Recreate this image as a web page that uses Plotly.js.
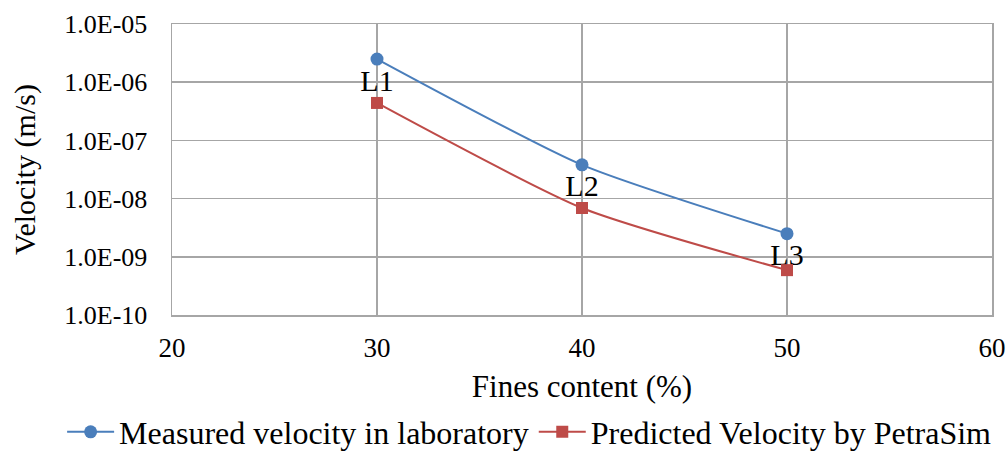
<!DOCTYPE html>
<html>
<head>
<meta charset="utf-8">
<script src="https://cdn.plot.ly/plotly-3.0.1.min.js"></script>
<style>html,body{margin:0;padding:0;background:#fff;}#chart{width:1007px;height:451px;}</style>
</head>
<body>
<div id="chart"></div>
<script>
const finesContent = [30, 40, 50];
const measuredVelocity = [2.5e-6, 3.8e-8, 2.5e-9];
const predictedVelocity = [4.4e-7, 6.9e-9, 5.9e-10];
const pointLabels = ['L1', 'L2', 'L3'];
const yTickVals = [1e-10, 1e-9, 1e-8, 1e-7, 1e-6, 1e-5];
const yTickText = ['1.0E-10', '1.0E-09', '1.0E-08', '1.0E-07', '1.0E-06', '1.0E-05'];
const xTickVals = [20, 30, 40, 50, 60];

const serif = 'Liberation Serif';

const traces = [
  {
    x: finesContent, y: measuredVelocity, name: 'Measured velocity in laboratory',
    mode: 'lines+markers+text', text: pointLabels, textposition: 'bottom center',
    textfont: {family: serif, size: 30, color: '#000'},
    line: {color: '#4A7EBB', width: 2, shape: 'spline', smoothing: 0.6},
    marker: {symbol: 'circle', size: 13, color: '#4A7EBB'}
  },
  {
    x: finesContent, y: predictedVelocity, name: 'Predicted Velocity by PetraSim',
    mode: 'lines+markers',
    line: {color: '#BE4B48', width: 2, shape: 'spline', smoothing: 0.6},
    marker: {symbol: 'square', size: 12, color: '#BE4B48'}
  }
];

const layout = {
  width: 1007, height: 451,
  margin: {l: 172, r: 15, t: 24, b: 136, autoexpand: false},
  paper_bgcolor: '#fff', plot_bgcolor: '#fff',
  font: {family: serif, size: 26, color: '#000'},
  showlegend: true,
  legend: {
    orientation: 'h', xref: 'paper', yref: 'paper',
    x: -0.134, xanchor: 'left', y: -0.402, yanchor: 'middle',
    font: {family: serif, size: 32, color: '#000'}, traceorder: 'normal',
    itemwidth: 47, borderwidth: 0, bgcolor: 'rgba(0,0,0,0)'
  },
  xaxis: {
    range: [20, 60], tickvals: xTickVals, ticks: '',
    showgrid: true, gridcolor: '#A6A6A6', gridwidth: 1.5,
    showline: true, linecolor: '#A6A6A6', linewidth: 1.5, mirror: true,
    zeroline: false, ticklabelstandoff: 8,
    tickfont: {family: serif, size: 27},
    title: {text: 'Fines content (%)', font: {family: serif, size: 31}, standoff: 13}
  },
  yaxis: {
    type: 'log', range: [-10, -5], tickvals: yTickVals, ticktext: yTickText, ticks: '',
    showgrid: true, gridcolor: '#A6A6A6', gridwidth: 1.5,
    showline: true, linecolor: '#A6A6A6', linewidth: 1.5, mirror: true,
    zeroline: false, ticklabelstandoff: 18,
    tickfont: {family: serif, size: 26},
    title: {text: 'Velocity (m/s)', font: {family: serif, size: 30}, standoff: 20}
  }
};

Plotly.newPlot('chart', traces, layout, {displayModeBar: false, staticPlot: true});
</script>
</body>
</html>
